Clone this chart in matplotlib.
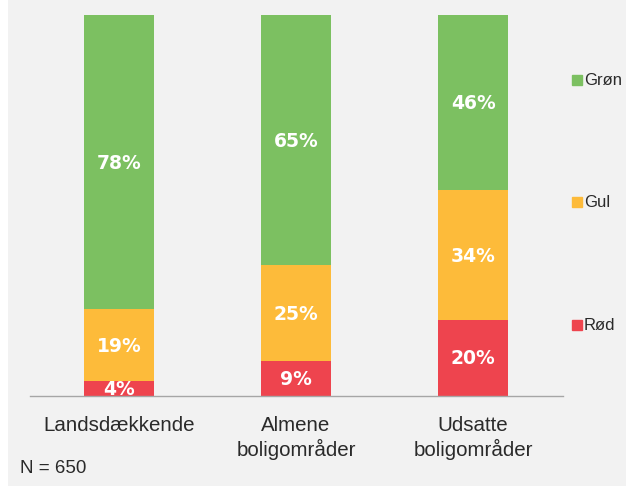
import matplotlib.pyplot as plt
from matplotlib.patches import Rectangle
from matplotlib.lines import Line2D
import numpy as np

plt.rcParams['font.family'] = ['Liberation Sans', 'DejaVu Sans']

categories = ['Landsdækkende', 'Almene\nboligområder', 'Udsatte\nboligområder']
series = ['Rød', 'Gul', 'Grøn']
rod = [4, 9, 20]
gul = [19, 25, 34]
gron = [78, 65, 46]
colors = {'Rød': '#EE444E', 'Gul': '#FDBB3A', 'Grøn': '#7CC061'}
BG = '#F2F2F2'

W, H = 626, 489
fig = plt.figure(figsize=(W / 100, H / 100), dpi=100, facecolor=BG)
# thin white margin on the left and bottom
fig.patches.append(Rectangle((0, 0), 8 / W, 1, transform=fig.transFigure,
                             facecolor='white', edgecolor='none', zorder=-1))
fig.patches.append(Rectangle((0, 0), 1, 2 / H, transform=fig.transFigure,
                             facecolor='white', edgecolor='none', zorder=-1))

ax = fig.add_axes([30 / W, 92 / H, 533 / W, 381 / H])
ax.set_facecolor(BG)
ax.patch.set_alpha(0)

x = np.arange(len(categories))
data = np.array([rod, gul, gron], dtype=float)
totals = data.sum(axis=0)  # bars are drawn as shares of 100 %
bottom = np.zeros(len(categories))
for name, vals in zip(series, data):
    h = vals / totals * 100
    ax.bar(x, h, 0.4, bottom=bottom, color=colors[name], zorder=2)
    for xi, b, hh, v in zip(x, bottom, h, vals):
        ax.text(xi, b + hh / 2, f'{int(v)}%', ha='center', va='center',
                color='white', fontsize=13.5, fontweight='bold',
                family='DejaVu Sans', zorder=3)
    bottom += h

ax.set_xlim(-0.503, 2.508)
ax.set_ylim(0, 100)
for s in ['top', 'right', 'left']:
    ax.spines[s].set_visible(False)
ax.spines['bottom'].set_color('#A6A6A6')
ax.spines['bottom'].set_linewidth(1)
ax.spines['bottom'].set_zorder(4)
ax.set_yticks([])
ax.set_xticks(x)
ax.set_xticklabels(categories, fontsize=14.8, color='#2a2a2a', linespacing=1.2)
ax.tick_params(axis='x', length=0, pad=14)

# legend on the right
for name, ypx in [('Grøn', 80.5), ('Gul', 203), ('Rød', 325.5)]:
    yf = 1 - ypx / H
    fig.lines.append(Line2D([576.5 / W], [yf], marker='s', markersize=6.8,
                            color=colors[name], linestyle='none',
                            transform=fig.transFigure))
    fig.text(584 / W, yf, name, fontsize=12, color='#2a2a2a', va='center', ha='left')

fig.text(20 / W, 1 - 469 / H, 'N = 650', fontsize=13.5, color='#2a2a2a', va='center', ha='left')

plt.savefig('out.png', dpi=100, facecolor=fig.get_facecolor())
